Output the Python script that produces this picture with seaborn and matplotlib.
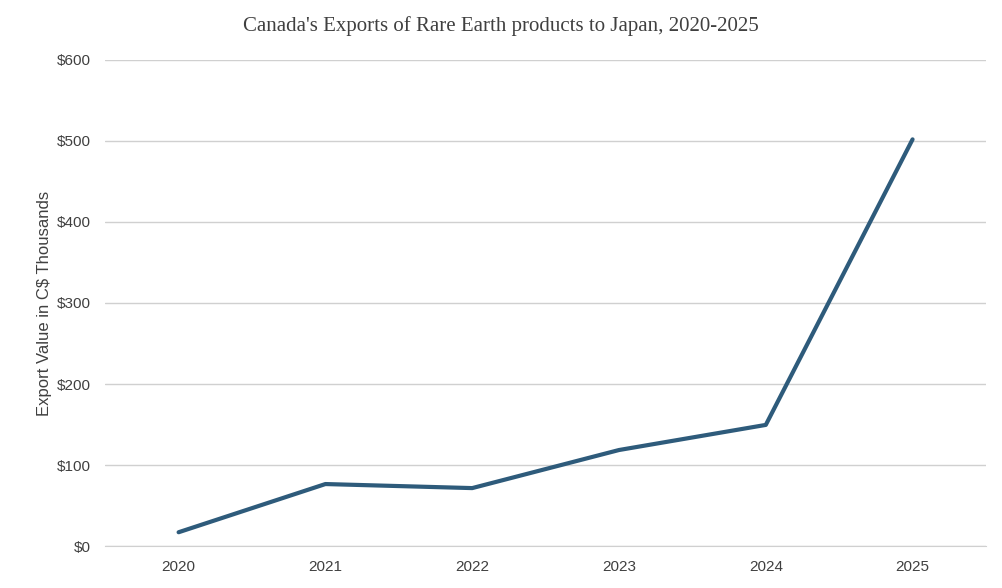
import numpy as np
import pandas as pd
import matplotlib
matplotlib.use("Agg")
import matplotlib.pyplot as plt
import seaborn as sns

years = ["2020", "2021", "2022", "2023", "2024", "2025"]
values = [17, 76.5, 71.5, 118.5, 149.5, 502]

df = pd.DataFrame({"year": years, "value": values})

sns.set_style("white")
plt.rcParams["font.family"] = ["Liberation Sans", "DejaVu Sans"]

fig = plt.figure(figsize=(10.02, 5.88), dpi=100)
ax = fig.add_axes([0.105, 0.0714, 0.879, 0.8266])

sns.lineplot(data=df, x="year", y="value", ax=ax, color="#2E5B7B",
             linewidth=3, sort=False)

ax.set_xlim(-0.5, len(years) - 0.5)
ax.set_ylim(0, 600)
ax.set_yticks(range(0, 601, 100))
ax.set_yticklabels([f"${v}" for v in range(0, 601, 100)])
ax.yaxis.grid(True, color="#d0d0d0", linewidth=1)
ax.set_axisbelow(True)
for s in ["top", "right", "left"]:
    ax.spines[s].set_visible(False)
ax.spines["bottom"].set_color("#d0d0d0")
ax.tick_params(axis="both", length=0, labelsize=11, colors="#404040", pad=10)
ax.set_xlabel("")
ax.set_ylabel("Export Value in C$ Thousands", fontsize=12, color="#404040")

fig.text(0.5, 0.955, "Canada's Exports of Rare Earth products to Japan, 2020-2025",
         ha="center", va="center", fontsize=15, color="#404040",
         family="Liberation Serif")

fig.savefig("out.png", dpi=100)
